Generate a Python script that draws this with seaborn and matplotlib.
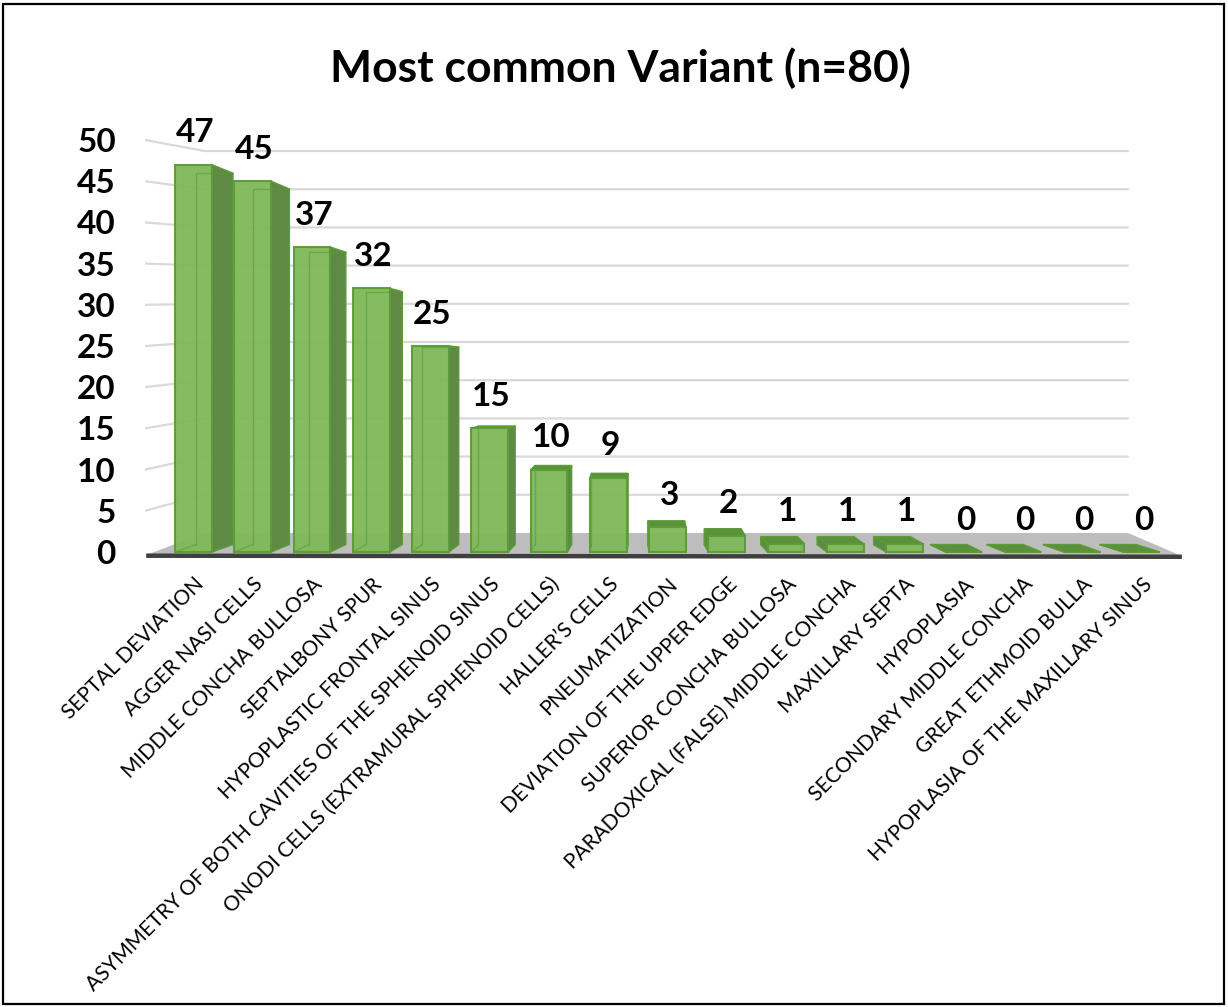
import matplotlib
matplotlib.use("Agg")
import matplotlib.pyplot as plt
import seaborn as sns
import pandas as pd
from matplotlib.patches import Polygon, Rectangle

# ---------------- data ----------------
categories = [
    "SEPTAL DEVIATION",
    "AGGER NASI CELLS",
    "MIDDLE CONCHA BULLOSA",
    "SEPTALBONY SPUR",
    "HYPOPLASTIC FRONTAL SINUS",
    "ASYMMETRY OF BOTH CAVITIES OF THE SPHENOID SINUS",
    "ONODI CELLS (EXTRAMURAL SPHENOID CELLS)",
    "HALLER\u2019S CELLS",
    "PNEUMATIZATION",
    "DEVIATION OF THE UPPER EDGE",
    "SUPERIOR CONCHA BULLOSA",
    "PARADOXICAL (FALSE) MIDDLE CONCHA",
    "MAXILLARY SEPTA",
    "HYPOPLASIA",
    "SECONDARY MIDDLE CONCHA",
    "GREAT ETHMOID BULLA",
    "HYPOPLASIA OF THE MAXILLARY SINUS",
]
counts = [47, 45, 37, 32, 25, 15, 10, 9, 3, 2, 1, 1, 1, 0, 0, 0, 0]
y_ticks = [0, 5, 10, 15, 20, 25, 30, 35, 40, 45, 50]
title_text = "Most common Variant (n=80)"

# ---------------- style ----------------
sns.set_theme(style="white")
plt.rcParams["font.family"] = ["Lato", "DejaVu Sans"]

FRONT = "#7fb95a"
SIDE = "#5f8a45"
TOP = "#5c8f3e"
EDGE = "#5a9c35"
FLOOR = "#bdbdbd"

W, H = 1228, 1007
PXX, PXY = 59.25, 8.24          # pixels per data unit (x, y)
XLIM = (-0.82, 16.70)
YLIM = (-1.0, 52.5)

fig = plt.figure(figsize=(W / 100, H / 100), dpi=100)
fig.patch.set_facecolor("white")
ax_w = (XLIM[1] - XLIM[0]) * PXX
ax_h = (YLIM[1] - YLIM[0]) * PXY
ax_left = 145
ax_bottom = 552 + (0 - YLIM[0]) * PXY
ax = fig.add_axes([ax_left / W, 1 - ax_bottom / H, ax_w / W, ax_h / H])

df = pd.DataFrame({"variant": categories, "count": counts})
sns.barplot(data=df, x="variant", y="count", order=categories, color=FRONT,
            saturation=1, width=0.62, edgecolor=EDGE, linewidth=1.5,
            ax=ax, zorder=4)
for p in ax.patches:
    p.set_alpha(0.95)

ax.set_xlim(*XLIM)
ax.set_ylim(*YLIM)

# ---------------- perspective helpers ----------------
def depth_dx(i):
    return (21 - 2.8 * i) / PXX

def depth_dy(h):
    return (7.5 - 0.34 * h) / PXY

def back_wall(v):
    return 2.31 + 0.927 * v

BACK_L, BACK_R = 0.19, 15.77

# grid lines (left wall + back wall)
for v in y_ticks[1:]:
    ax.plot([XLIM[0], BACK_L, BACK_R], [v, back_wall(v), back_wall(v)],
            color="#d9d9d9", lw=1.6, zorder=0.5, solid_joinstyle="miter")

# floor
floor = Polygon([(XLIM[0] + 0.02, -0.36), (XLIM[1] - 0.02, -0.49),
                 (BACK_R, back_wall(0)), (BACK_L, back_wall(0))],
                closed=True, facecolor=FLOOR, edgecolor="none", zorder=1)
ax.add_patch(floor)
ax.plot([XLIM[0] + 0.02, XLIM[1] - 0.02], [-0.45, -0.58], color="#3f3f3f",
        lw=3.2, zorder=1.5, solid_capstyle="butt")

# 3D faces derived from each seaborn bar
bars = [p for p in ax.patches if isinstance(p, Rectangle) and p is not floor]
for i, p in enumerate(bars[:len(counts)]):
    x0 = p.get_x()
    x1 = x0 + p.get_width()
    h = p.get_height()
    dx = depth_dx(i)
    dyb = depth_dy(0)
    dyt = depth_dy(h)
    if dx > 0:
        side = [(x1, 0), (x1 + dx, dyb), (x1 + dx, h + dyt), (x1, h)]
    else:
        side = [(x0, 0), (x0 + dx, dyb), (x0 + dx, h + dyt), (x0, h)]
    ax.add_patch(Polygon(side, closed=True, facecolor=SIDE, edgecolor=EDGE,
                         lw=1.0, zorder=3))
    if dyt > 0:
        top = [(x0, h), (x1, h), (x1 + dx, h + dyt), (x0 + dx, h + dyt)]
        ax.add_patch(Polygon(top, closed=True, facecolor=TOP, edgecolor=EDGE,
                             lw=1.0, zorder=5 if h == 0 else 3))
    if h > 0:
        ax.plot([x0 + dx, x0 + dx, x1 + dx], [dyb, h + dyt, h + dyt],
                color=EDGE, lw=1.0, alpha=0.6, zorder=4.5)
        ax.plot([x0, x0 + dx], [0, dyb], color=EDGE, lw=1.0, alpha=0.6, zorder=4.5)

    ax.annotate(f"{counts[i]}", (x0 + p.get_width() / 2 + 0.03, h),
                xytext=(0, 23), textcoords="offset points", ha="center",
                va="center", fontsize=24, fontweight="bold", color="black",
                zorder=6)

# ---------------- axes text ----------------
ax.set_xticks(range(len(categories)))
ax.set_xticklabels(categories, rotation=45, ha="right", va="top",
                   rotation_mode="anchor", fontsize=15, color="black")
ax.set_yticks(y_ticks)
ax.set_yticklabels([str(t) for t in y_ticks], fontsize=24, fontweight="bold",
                   color="black")
ax.tick_params(axis="x", length=0, pad=10)
ax.tick_params(axis="y", length=0, pad=21)
ax.set_xlabel("")
ax.set_ylabel("")
ax.grid(False)
for s in ax.spines.values():
    s.set_visible(False)
ax.set_facecolor("none")

fig.text(620 / W, 1 - 68 / H, title_text, ha="center", va="center",
         fontsize=32, fontweight="bold", color="black")

# chart border
fig.patches.append(Rectangle((3 / W, 3 / H), 1 - 7 / W, 1 - 7 / H,
                             transform=fig.transFigure, fill=False,
                             edgecolor="black", lw=1.6))

fig.savefig("out.png", dpi=100, facecolor="white")
